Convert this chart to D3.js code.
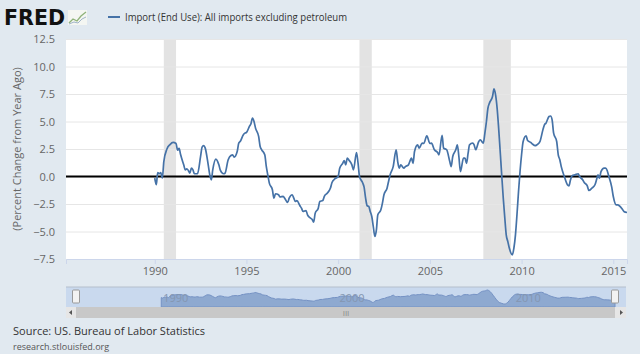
<!DOCTYPE html>
<html>
<head>
<meta charset="utf-8">
<script src="https://cdn.jsdelivr.net/npm/d3@7"></script>
<style>
  body { margin: 0; background: #e1e9f0; }
  svg { display: block; font-family: "Open Sans", sans-serif; }
</style>
</head>
<body>
<div id="chart"></div>
<script>
// Monthly points (percent change from year ago)
const months = [
  "1990-01","1990-02","1990-03","1990-04","1990-05","1990-06","1990-07","1990-09","1990-11",
  "1991-01","1991-03","1991-04","1991-05","1991-06","1991-08","1991-09","1991-10","1991-11","1991-12",
  "1992-01","1992-02","1992-03","1992-05","1992-07","1992-08","1992-09","1992-10","1992-12",
  "1993-01","1993-02","1993-03","1993-05","1993-07","1993-08","1993-10","1993-11",
  "1994-01","1994-02","1994-04","1994-05","1994-07","1994-08","1994-09","1994-11","1994-12",
  "1995-01","1995-03","1995-04","1995-05","1995-06","1995-07","1995-09","1995-10","1995-11",
  "1996-01","1996-02","1996-03","1996-04","1996-06","1996-07","1996-08","1996-10","1996-11",
  "1997-01","1997-02","1997-04","1997-05","1997-07","1997-08","1997-09","1997-10","1997-12",
  "1998-01","1998-02","1998-04","1998-05","1998-07","1998-08","1998-09","1998-10","1998-12",
  "1999-01","1999-03","1999-04","1999-06","1999-08","1999-09","1999-11",
  "2000-01","2000-02","2000-04","2000-05","2000-06","2000-07","2000-08","2000-10","2000-11",
  "2001-01","2001-02","2001-03","2001-05","2001-06","2001-07","2001-08","2001-09","2001-10","2001-11","2001-12",
  "2002-01","2002-02","2002-03","2002-05","2002-06","2002-07","2002-09","2002-10","2002-11",
  "2003-01","2003-03","2003-04","2003-05","2003-06","2003-08","2003-09","2003-11",
  "2004-01","2004-02","2004-03","2004-05","2004-06","2004-08","2004-09","2004-11",
  "2005-01","2005-02","2005-04","2005-06","2005-07","2005-09","2005-10","2005-12",
  "2006-02","2006-03","2006-04","2006-06","2006-07","2006-08","2006-09","2006-11","2006-12",
  "2007-01","2007-02","2007-03","2007-05","2007-06","2007-07","2007-09","2007-10","2007-12",
  "2008-01","2008-02","2008-03","2008-04","2008-06","2008-07","2008-08","2008-09","2008-10","2008-11","2008-12",
  "2009-01","2009-02","2009-03","2009-04","2009-05","2009-07","2009-08","2009-09","2009-10","2009-11","2009-12",
  "2010-01","2010-02","2010-04","2010-05","2010-07","2010-08","2010-10","2010-11",
  "2011-01","2011-03","2011-04","2011-05","2011-07","2011-08","2011-09","2011-10","2011-12",
  "2012-01","2012-02","2012-03","2012-05","2012-07","2012-08","2012-09","2012-10","2012-12",
  "2013-02","2013-03","2013-05","2013-06","2013-08","2013-09","2013-11",
  "2014-01","2014-02","2014-03","2014-04","2014-05","2014-07","2014-08","2014-09","2014-10","2014-12",
  "2015-01","2015-03","2015-04","2015-05","2015-07","2015-08","2015-10"
];
const values = [
  -0.15,-0.75,0.36,0.25,0.35,-0.15,1.36,2.5,2.9,
  3.1,3.0,2.4,2.55,1.97,1.06,0.6,0.7,0.55,0.3,
  0.76,0.6,0.25,0.25,1.8,2.67,2.8,2.6,1.06,
  0.15,-0.3,0.6,1.58,1.06,0.55,0.25,0.3,
  1.5,1.8,1.97,1.76,2.27,3.03,3.2,3.8,3.94,
  4.0,4.55,4.8,5.3,5.0,4.4,3.64,2.73,2.43,
  1.97,0.9,0.15,-0.6,-1.2,-1.97,-1.57,-1.66,-1.85,
  -1.8,-1.97,-2.36,-1.97,-1.66,-1.97,-2.27,-2.2,-2.66,
  -2.88,-3.18,-3.1,-3.48,-3.79,-3.9,-4.15,-3.33,-2.88,
  -2.27,-2.18,-1.8,-1.5,-1.05,-0.55,-0.2,
  0.0,0.76,1.2,1.45,1.06,1.67,1.5,1.06,0.6,
  2.18,1.2,0.0,-0.55,-0.97,-1.97,-2.66,-2.72,-3.18,-3.64,-4.55,
  -5.45,-4.85,-3.48,-3.03,-2.42,-1.66,-1.06,-0.45,0.15,
  0.9,2.43,1.36,0.76,1.06,0.76,0.9,1.06,
  1.67,1.2,2.27,2.88,2.58,3.03,3.0,3.7,
  3.0,3.03,2.43,2.2,1.97,3.73,2.58,2.43,
  1.36,0.9,1.82,2.43,2.88,1.82,0.45,1.67,1.67,
  1.2,2.12,2.88,3.03,2.88,2.43,3.18,3.33,3.03,
  3.94,5.0,6.2,6.67,7.27,7.97,7.42,6.2,4.4,2.27,0.15,
  -1.97,-3.79,-5.3,-5.9,-6.5,-7.12,-6.5,-5.3,-3.48,-1.36,0.45,
  2.0,3.18,3.7,3.27,3.1,2.97,2.8,2.88,
  3.18,4.24,4.7,4.85,5.45,5.5,5.15,3.94,3.18,
  1.97,1.52,0.9,0.0,-0.75,-0.85,-0.3,0.06,0.15,
  0.25,0.0,-0.3,-0.55,-0.85,-1.27,-1.06,
  -0.75,-0.3,0.15,-0.15,0.45,0.76,0.76,0.55,0.06,-0.97,
  -1.82,-2.58,-2.58,-2.66,-2.97,-3.18,-3.27
];

// NBER recessions (shaded)
const recessionStarts = ["1990-07", "2001-03", "2007-12"];
const recessionEnds = ["1991-03", "2001-11", "2009-06"];

const yTicks = [-7.5, -5.0, -2.5, 0.0, 2.5, 5.0, 7.5, 10.0, 12.5];
const xTickYears = [1990, 1995, 2000, 2005, 2010, 2015];
const navTickYears = [1990, 2000, 2010];

const seriesName = "Import (End Use): All imports excluding petroleum";
const yTitle = "(Percent Change from Year Ago)";

// Set up dimensions
const width = 640, height = 354;
const plot = {left: 66, right: 627, top: 39, bottom: 259};
const nav = {left: 66, right: 626, top: 287, bottom: 307, sbBottom: 318};

const parseMonth = d3.timeParse("%Y-%m");
const data = months.map((m, i) => ({date: parseMonth(m), v: values[i]}));

const svg = d3.select("#chart")
  .append("svg")
  .attr("width", width)
  .attr("height", height);

const xDomain = [new Date(1985, 2, 1), new Date(2015, 9, 1)];

const xScale = d3.scaleTime()
  .domain(xDomain)
  .range([plot.left, plot.right]);

const yScale = d3.scaleLinear()
  .domain([-7.5, 12.5])
  .range([plot.bottom, plot.top]);

// Plot background
svg.append("rect")
  .attr("x", plot.left)
  .attr("y", plot.top)
  .attr("width", plot.right - plot.left)
  .attr("height", plot.bottom - plot.top)
  .attr("fill", "#ffffff");

// Recession bands
svg.append("g")
  .selectAll("rect")
  .data(recessionStarts.map((s, i) => [parseMonth(s), parseMonth(recessionEnds[i])]))
  .join("rect")
  .attr("x", d => xScale(d[0]))
  .attr("y", plot.top)
  .attr("width", d => xScale(d[1]) - xScale(d[0]))
  .attr("height", plot.bottom - plot.top)
  .attr("fill", "#e3e3e3");

// Y axis with gridlines
const yAxis = d3.axisLeft(yScale)
  .tickValues(yTicks)
  .tickFormat(d3.format(".1f"))
  .tickSize(-(plot.right - plot.left))
  .tickPadding(11);

const yG = svg.append("g")
  .attr("transform", `translate(${plot.left},0)`)
  .call(yAxis);
yG.select(".domain").remove();
yG.selectAll("line").attr("stroke", "#e6e6e6");
yG.selectAll("text")
  .attr("fill", "#666")
  .style("font-size", "11px")
  .style("font-family", "Open Sans, sans-serif");

// X axis
const xAxis = d3.axisBottom(xScale)
  .tickValues(xTickYears.map(y => new Date(y, 0, 1)))
  .tickFormat(d3.timeFormat("%Y"))
  .tickSize(5)
  .tickPadding(3);

const xG = svg.append("g")
  .attr("transform", `translate(0,${plot.bottom})`)
  .call(xAxis);
xG.select(".domain").attr("stroke", "#ccd6eb");
xG.selectAll("line").attr("stroke", "#ccd6eb");
xG.selectAll("text")
  .attr("fill", "#666")
  .style("font-size", "11px")
  .style("font-family", "Open Sans, sans-serif");

// Zero line
svg.append("line")
  .attr("x1", plot.left)
  .attr("x2", plot.right)
  .attr("y1", yScale(0))
  .attr("y2", yScale(0))
  .attr("stroke", "#000")
  .attr("stroke-width", 2);

// Series line
const line = d3.line()
  .x(d => xScale(d.date))
  .y(d => yScale(d.v))
  .curve(d3.curveMonotoneX);

svg.append("path")
  .datum(data)
  .attr("d", line)
  .attr("fill", "none")
  .attr("stroke", "#4572a7")
  .attr("stroke-width", 1.7)
  .attr("stroke-linejoin", "round");

// Y axis title
svg.append("text")
  .attr("transform", `translate(21,${(plot.top + plot.bottom) / 2}) rotate(-90)`)
  .attr("text-anchor", "middle")
  .attr("fill", "#666")
  .style("font-size", "11px")
  .text(yTitle);

// Header: FRED logo and legend
svg.append("text")
  .attr("x", 4)
  .attr("y", 25)
  .attr("fill", "#111")
  .attr("textLength", 61)
  .attr("lengthAdjust", "spacingAndGlyphs")
  .style("font-family", "DejaVu Sans, sans-serif")
  .style("font-weight", "bold")
  .style("font-size", "21px")
  .text("FRED");

const icon = svg.append("g").attr("transform", "translate(68,10)");
icon.append("rect")
  .attr("width", 19).attr("height", 15)
  .attr("fill", "#f4f6f2");
icon.append("polyline")
  .attr("points", "1,13 5,9 9,11 13,6 18,2")
  .attr("fill", "none")
  .attr("stroke", "#8fb27a")
  .attr("stroke-width", 1.3);
icon.append("polyline")
  .attr("points", "1,14 6,12 10,13 14,9 18,7")
  .attr("fill", "none")
  .attr("stroke", "#9fb4c8")
  .attr("stroke-width", 1);

svg.append("line")
  .attr("x1", 108).attr("x2", 120)
  .attr("y1", 17).attr("y2", 17)
  .attr("stroke", "#4572a7")
  .attr("stroke-width", 2);

svg.append("text")
  .attr("x", 125)
  .attr("y", 21)
  .attr("fill", "#333")
  .attr("textLength", 222)
  .attr("lengthAdjust", "spacingAndGlyphs")
  .style("font-size", "11px")
  .text(seriesName);

// Navigator
const navX = d3.scaleTime()
  .domain(xDomain)
  .range([76, 615]);
const navY = d3.scaleLinear()
  .domain([d3.min(values), d3.max(values)])
  .range([304, 290]);

svg.append("rect")
  .attr("x", nav.left).attr("y", nav.top)
  .attr("width", nav.right - nav.left)
  .attr("height", nav.bottom - nav.top)
  .attr("fill", "#c9d9ee");

const area = d3.area()
  .x(d => navX(d.date))
  .y0(nav.bottom)
  .y1(d => navY(d.v))
  .curve(d3.curveMonotoneX);

svg.append("path")
  .datum(data)
  .attr("d", area)
  .attr("fill", "#8ea9d0")
  .attr("stroke", "#7592c4")
  .attr("stroke-width", 1);

svg.append("g")
  .selectAll("text")
  .data(navTickYears)
  .join("text")
  .attr("x", d => navX(new Date(d, 0, 1)) + 2)
  .attr("y", 302)
  .attr("fill", "#8496b0")
  .style("font-size", "11px")
  .text(d => d);

svg.append("line")
  .attr("x1", nav.left).attr("x2", nav.right)
  .attr("y1", nav.top).attr("y2", nav.top)
  .attr("stroke", "#b5bfcc");

// Navigator handles
svg.append("g")
  .selectAll("rect")
  .data([76, 615])
  .join("rect")
  .attr("x", d => d - 3.5)
  .attr("y", 290)
  .attr("width", 7)
  .attr("height", 13)
  .attr("rx", 1)
  .attr("fill", "#f2f2f2")
  .attr("stroke", "#999");

// Scrollbar
svg.append("rect")
  .attr("x", nav.left).attr("y", nav.bottom)
  .attr("width", nav.right - nav.left)
  .attr("height", nav.sbBottom - nav.bottom)
  .attr("fill", "#e6e6e6");
svg.append("rect")
  .attr("x", 76).attr("y", nav.bottom)
  .attr("width", 615 - 76)
  .attr("height", nav.sbBottom - nav.bottom)
  .attr("fill", "#c8c8c8");
svg.append("text")
  .attr("x", 346).attr("y", 316)
  .attr("text-anchor", "middle")
  .attr("fill", "#888")
  .style("font-size", "8px")
  .text("III");
svg.append("path")
  .attr("d", "M72,310 L69,312.5 L72,315 Z")
  .attr("fill", "#555");
svg.append("path")
  .attr("d", "M620,310 L623,312.5 L620,315 Z")
  .attr("fill", "#555");

// Footer
svg.append("text")
  .attr("x", 13)
  .attr("y", 335)
  .attr("fill", "#333")
  .style("font-size", "11px")
  .text("Source: US. Bureau of Labor Statistics");

svg.append("text")
  .attr("x", 13)
  .attr("y", 350)
  .attr("fill", "#555")
  .style("font-size", "9px")
  .text("research.stlouisfed.org");
</script>
</body>
</html>
